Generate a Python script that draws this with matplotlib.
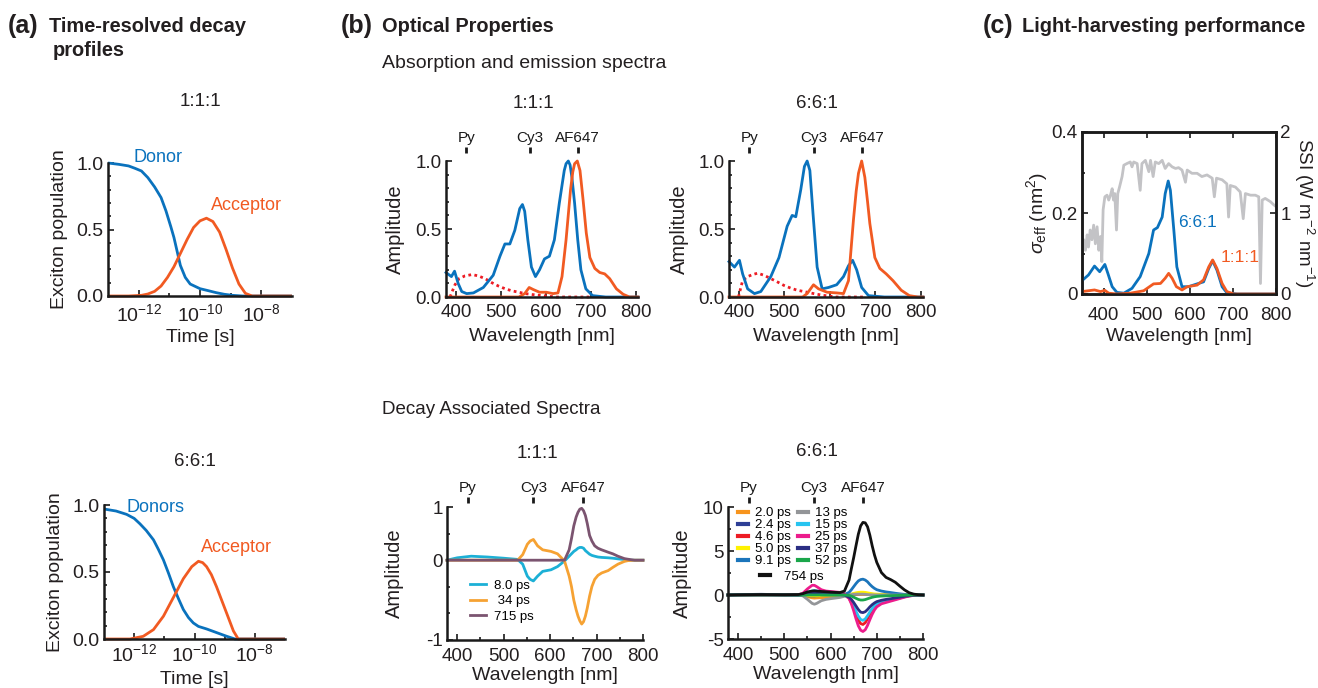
import numpy as np
import matplotlib
matplotlib.use("Agg")
import matplotlib.pyplot as plt
from matplotlib.ticker import FixedLocator, NullFormatter

# ---------------------------------------------------------------- data
# (a) exciton populations, time as log10(t / s)
a_top_title = "1:1:1"
a_bot_title = "6:6:1"
t_donor_111 = [-13.0, -12.65, -12.33, -12.12, -11.91, -11.70, -11.48, -11.27, -11.11, -10.95, -10.85,
               -10.74, -10.64, -10.48, -10.32, -10.0, -9.73, -9.47, -9.21, -8.94, -8.62, -7.0]
donor_111 = [1.0, 0.99, 0.978, 0.96, 0.94, 0.89, 0.82, 0.74, 0.64, 0.52, 0.44,
             0.33, 0.23, 0.14, 0.09, 0.055, 0.04, 0.025, 0.013, 0.005, 0.0, 0.0]
t_acc_111 = [-13.0, -12.33, -11.91, -11.70, -11.48, -11.27, -11.06, -10.85, -10.64, -10.42, -10.21,
             -10.0, -9.79, -9.58, -9.36, -9.15, -8.94, -8.73, -8.52, -8.30, -7.0]
acc_111 = [0, 0, 0.005, 0.015, 0.035, 0.075, 0.14, 0.22, 0.32, 0.425, 0.515,
           0.565, 0.585, 0.56, 0.48, 0.35, 0.21, 0.09, 0.02, 0, 0]
t_donor_661 = [-13.0, -12.6, -12.25, -12.0, -11.81, -11.6, -11.36, -11.2, -11.03, -10.86, -10.70,
               -10.53, -10.37, -10.2, -10.04, -9.87, -9.6, -9.38, -9.15, -8.93, -8.66, -7.0]
donor_661 = [0.97, 0.955, 0.93, 0.9, 0.86, 0.81, 0.74, 0.67, 0.59, 0.49, 0.39,
             0.3, 0.22, 0.16, 0.12, 0.094, 0.075, 0.057, 0.038, 0.02, 0.0, 0.0]
t_acc_661 = [-13.0, -12.14, -11.70, -11.36, -11.03, -10.70, -10.37, -10.09, -9.87, -9.73,
             -9.60, -9.44, -9.27, -9.1, -8.93, -8.71, -8.55, -8.3, -7.0]
acc_661 = [0, 0, 0.02, 0.07, 0.17, 0.31, 0.45, 0.54, 0.58, 0.57,
           0.54, 0.48, 0.39, 0.29, 0.19, 0.06, 0.0, 0.0, 0.0]
a_xticks = [1e-12, 1e-10, 1e-8]
a_xticklabels = ["10$^{-12}$", "10$^{-10}$", "10$^{-8}$"]

# (b) dye marker positions (nm)
dye_names = ["Py", "Cy3", "AF647"]
dye_wl = [423, 564, 671]

# (b) absorption / emission, 1:1:1
wl_abs_111 = [378, 390, 397, 405, 413, 424, 439, 461, 483, 498, 509, 520, 531, 542, 548, 553, 560,
              568, 577, 586, 597, 608, 619, 630, 641, 645, 650, 654, 658, 664, 671, 678, 689, 704, 733, 805]
abs_111 = [0.18, 0.15, 0.19, 0.10, 0.04, 0.025, 0.03, 0.07, 0.16, 0.30, 0.39, 0.39, 0.49, 0.65, 0.68, 0.63, 0.42,
           0.22, 0.15, 0.20, 0.28, 0.30, 0.42, 0.69, 0.93, 0.98, 1.0, 0.97, 0.88, 0.69, 0.42, 0.20, 0.06, 0.01, 0.0, 0.0]
wl_em_111 = [378, 540, 553, 563, 572, 586, 601, 616, 627, 636, 645, 655, 660, 664, 670, 676, 683, 690,
             698, 709, 720, 731, 742, 757, 772, 786, 805]
em_111 = [0, 0, 0.025, 0.07, 0.055, 0.035, 0.035, 0.025, 0.03, 0.15, 0.42, 0.79, 0.92, 0.98, 1.0, 0.93, 0.71, 0.47,
          0.29, 0.21, 0.18, 0.17, 0.135, 0.06, 0.02, 0.0, 0.0]
wl_py_111 = [387, 393, 398, 407, 420, 436, 450, 465, 480, 495, 510, 525, 540, 554, 570, 586, 605, 623, 700]
py_111 = [0, 0.05, 0.09, 0.135, 0.155, 0.165, 0.155, 0.135, 0.105, 0.08, 0.06, 0.045, 0.035, 0.025,
          0.018, 0.012, 0.006, 0.0, 0.0]

# (b) absorption / emission, 6:6:1
wl_abs_661 = [378, 390, 401, 408, 419, 434, 448, 470, 488, 506, 517, 525, 536, 544, 550, 556, 563, 572,
              583, 597, 615, 630, 641, 650, 659, 670, 685, 720, 805]
abs_661 = [0.26, 0.22, 0.27, 0.17, 0.06, 0.025, 0.04, 0.15, 0.29, 0.52, 0.60, 0.59, 0.79, 0.96, 1.0, 0.93, 0.61, 0.22,
           0.06, 0.07, 0.09, 0.15, 0.23, 0.27, 0.20, 0.07, 0.01, 0.0, 0.0]
wl_em_661 = [378, 540, 550, 564, 575, 594, 615, 630, 641, 652, 658, 663, 670, 677, 683, 688, 699, 710,
             724, 739, 757, 775, 794, 805]
em_661 = [0.0, 0.0, 0.025, 0.09, 0.06, 0.035, 0.03, 0.025, 0.12, 0.57, 0.78, 0.91, 1.0, 0.88, 0.7, 0.54, 0.29, 0.21,
          0.17, 0.12, 0.05, 0.01, 0.0, 0.0]
wl_py_661 = [399, 404, 408, 419, 430, 441, 455, 470, 485, 499, 514, 528, 543, 557, 572, 586, 615, 680]
py_661 = [0, 0.07, 0.12, 0.15, 0.165, 0.175, 0.16, 0.135, 0.11, 0.085, 0.065, 0.05, 0.04, 0.03, 0.02, 0.012, 0.0, 0.0]

# (b) decay associated spectra, 1:1:1
wl_das_111 = [378, 400, 430, 465, 500, 530, 541, 551, 557, 564, 573, 584, 602, 616, 631, 641, 646, 651,
              656, 660, 664, 668, 672, 676, 680, 685, 690, 696, 703, 711, 725, 735, 746, 760, 768, 782, 800]
das111_labels = ["8.0 ps", " 34 ps", "715 ps"]
das111_8p0 = [0, 0.03, 0.05, 0.04, 0.025, 0.01, -0.05, -0.2, -0.24, -0.26, -0.2, -0.14, -0.12, -0.08, -0.01,
              0.05, 0.08, 0.11, 0.13, 0.15, 0.16, 0.16, 0.15, 0.12, 0.1, 0.075, 0.06, 0.05, 0.04, 0.035,
              0.03, 0.025, 0.017, 0.008, 0, 0, 0]
das111_34 = [0, 0, 0, 0, 0, 0.0, 0.07, 0.2, 0.24, 0.26, 0.18, 0.13, 0.11, 0.08, -0.01, -0.2, -0.33, -0.5,
             -0.62, -0.7, -0.76, -0.8, -0.77, -0.7, -0.6, -0.45, -0.33, -0.24, -0.19, -0.16,
             -0.13, -0.09, -0.05, -0.015, -0.005, 0, 0]
das111_715 = [0, 0, 0, 0, 0, 0, 0, 0, 0, 0, 0, 0, 0, 0, 0.0, 0.13, 0.27, 0.43, 0.54, 0.6, 0.64, 0.65, 0.62,
              0.56, 0.46, 0.31, 0.24, 0.18, 0.15, 0.13, 0.1, 0.08, 0.05, 0.02, 0.012, 0.0, 0.0]

# (b) decay associated spectra, 6:6:1
wl_das_661 = [378, 400, 450, 500, 530, 540, 550, 560, 565, 570, 580, 590, 600, 610, 620, 630, 640, 645, 650,
              655, 660, 665, 670, 675, 680, 685, 690, 695, 700, 710, 720, 730, 740, 750, 760, 770, 780, 790, 800]
das661_labels = ["2.0 ps", "2.4 ps", "4.6 ps", "5.0 ps", "9.1 ps", "13 ps", "15 ps", "25 ps", "37 ps", "52 ps",
                 "754 ps"]
das661_2p0 = [0, 0, 0, 0, 0, -0.05, -0.2, -0.32, -0.35, -0.33, -0.3, -0.28, -0.25, -0.2, -0.12, -0.05, 0, 0.02,
              0.03, 0.04, 0.05, 0.05, 0.05, 0.05, 0.04, 0.03, 0.02, 0.02, 0.01, 0.01, 0, 0, 0, 0, 0, 0, 0, 0, 0]
das661_2p4 = [0, 0.05, 0.08, 0.03, 0, -0.02, -0.08, -0.12, -0.12, -0.1, -0.06, -0.04, -0.03, -0.02, -0.01, 0,
              0.05, 0.08, 0.1, 0.12, 0.14, 0.15, 0.15, 0.14, 0.12, 0.1, 0.08, 0.06, 0.05, 0.04, 0.03, 0.02,
              0.02, 0.01, 0.01, 0, 0, 0, 0]
das661_4p6 = [0, 0, 0, 0, 0, 0.05, 0.15, 0.25, 0.25, 0.2, 0.15, 0.12, 0.1, 0.08, 0.05, 0, -0.37, -0.85, -1.5,
              -2.2, -2.85, -3.25, -3.35, -3.15, -2.7, -2.2, -1.75, -1.4, -1.15, -0.88, -0.72, -0.6, -0.46,
              -0.34, -0.2, -0.1, -0.04, -0.01, 0]
das661_5p0 = [0, 0, 0, 0, 0, 0, -0.05, -0.1, -0.1, -0.1, -0.05, -0.03, -0.02, -0.01, 0, 0, 0.05, 0.1, 0.18,
              0.25, 0.3, 0.32, 0.32, 0.3, 0.25, 0.2, 0.15, 0.12, 0.1, 0.07, 0.05, 0.04, 0.03, 0.02, 0.01, 0, 0, 0, 0]
das661_9p1 = [0, 0, 0, 0, 0, 0.05, 0.2, 0.35, 0.4, 0.35, 0.2, 0.12, 0.08, 0.05, 0.03, 0.05, 0.3, 0.6, 0.95,
              1.3, 1.6, 1.75, 1.8, 1.7, 1.5, 1.2, 0.95, 0.75, 0.6, 0.45, 0.35, 0.28, 0.2, 0.13, 0.07, 0.03,
              0.01, 0, 0]
das661_13 = [0, 0, 0, 0, 0, -0.1, -0.5, -0.95, -1.05, -0.95, -0.65, -0.5, -0.42, -0.35, -0.28, -0.15, 0, 0.05,
             0.08, 0.1, 0.1, 0.1, 0.1, 0.08, 0.05, 0.03, 0.02, 0.01, 0.01, 0, 0, 0, 0, 0, 0, 0, 0, 0, 0]
das661_15 = [0, 0, 0, 0, 0, 0.05, 0.25, 0.45, 0.5, 0.45, 0.3, 0.2, 0.15, 0.12, 0.08, 0.02, -0.32, -0.7, -1.25,
             -1.85, -2.4, -2.78, -2.88, -2.72, -2.35, -1.92, -1.55, -1.22, -1.0, -0.78, -0.64, -0.52, -0.41,
             -0.3, -0.18, -0.09, -0.04, -0.01, 0]
das661_25 = [0, 0, 0, 0, 0.02, 0.2, 0.7, 1.1, 1.1, 0.95, 0.6, 0.45, 0.4, 0.35, 0.3, 0.15, -0.4, -1.0, -1.8,
             -2.7, -3.5, -4.0, -4.15, -3.95, -3.45, -2.8, -2.2, -1.7, -1.35, -1.0, -0.85, -0.7, -0.55, -0.4,
             -0.25, -0.12, -0.05, -0.01, 0]
das661_37 = [0, 0.03, 0.05, 0.02, 0, 0.02, 0.1, 0.2, 0.22, 0.2, 0.15, 0.12, 0.1, 0.08, 0.05, 0, -0.25, -0.5,
             -0.85, -1.25, -1.65, -1.95, -2.0, -1.9, -1.65, -1.35, -1.1, -0.9, -0.75, -0.6, -0.5, -0.42, -0.33,
             -0.25, -0.15, -0.08, -0.03, -0.01, 0]
das661_52 = [0, 0, 0, 0, 0, 0, 0, 0, 0, 0, 0, 0, 0, 0, 0, 0, -0.05, -0.12, -0.25, -0.38, -0.5, -0.57, -0.57,
             -0.52, -0.43, -0.34, -0.26, -0.2, -0.16, -0.12, -0.1, -0.08, -0.06, -0.04, -0.02, -0.01, 0, 0, 0]
das661_754 = [0, 0.02, 0.05, 0.03, 0.05, 0.15, 0.35, 0.45, 0.47, 0.45, 0.4, 0.37, 0.33, 0.3, 0.28, 0.45, 1.7,
              3.0, 4.25, 5.6, 6.9, 7.85, 8.25, 8.2, 7.75, 6.8, 5.6, 4.55, 3.7, 2.55, 2.0, 1.75, 1.45, 1.0,
              0.58, 0.26, 0.1, 0.03, 0]

# (c) effective cross-section and solar spectral irradiance
wl_sig_661 = [350, 365, 379, 391, 403, 410, 420, 431, 447, 466, 485, 505, 516, 525, 536, 543, 550, 555, 563,
              570, 582, 597, 617, 632, 644, 653, 663, 675, 686, 710, 800]
sig_661 = [0.033, 0.047, 0.069, 0.055, 0.073, 0.051, 0.018, 0.004, 0.002, 0.014, 0.043, 0.10, 0.158, 0.164,
           0.19, 0.248, 0.279, 0.256, 0.158, 0.067, 0.018, 0.018, 0.025, 0.03, 0.063, 0.082, 0.059, 0.018,
           0.003, 0.0, 0.0]
wl_sig_111 = [350, 379, 393, 403, 412, 431, 462, 493, 516, 532, 543, 551, 559, 569, 582, 594, 617, 632, 644,
              653, 663, 675, 686, 702, 800]
sig_111 = [0.006, 0.01, 0.006, 0.009, 0.002, 0.0, 0.002, 0.008, 0.025, 0.026, 0.039, 0.051, 0.039, 0.018,
           0.01, 0.018, 0.022, 0.035, 0.067, 0.084, 0.063, 0.026, 0.006, 0.0, 0.0]
wl_ssi = [350, 354, 358, 362, 365, 369, 373, 377, 381, 385, 389, 393, 396, 399, 403, 408, 412, 416, 420, 423,
          426, 430, 433, 437, 443, 447, 454, 462, 466, 470, 478, 485, 489, 497, 505, 509, 515, 520, 528, 536,
          543, 551, 559, 567, 574, 582, 590, 594, 605, 617, 628, 640, 652, 657, 662, 675, 686, 690, 694, 706,
          717, 724, 729, 741, 752, 760, 764, 768, 775, 787, 795, 800]
ssi = [0.50, 0.67, 0.54, 0.73, 0.58, 0.79, 0.67, 0.85, 0.62, 0.83, 0.54, 0.71, 0.40, 1.04, 1.20, 1.22, 1.16,
       1.22, 1.30, 1.16, 1.24, 0.79, 1.24, 1.32, 1.45, 1.59, 1.61, 1.63, 1.57, 1.63, 1.61, 1.28, 1.61, 1.65,
       1.51, 1.65, 1.45, 1.63, 1.61, 1.65, 1.55, 1.61, 1.57, 1.55, 1.56, 1.53, 1.38, 1.53, 1.49, 1.49, 1.45,
       1.47, 1.43, 1.20, 1.43, 1.41, 1.36, 0.95, 1.34, 1.32, 1.26, 0.93, 1.24, 1.22, 1.22, 1.20, 0.13, 1.16,
       1.18, 1.14, 1.10, 1.08]

# ---------------------------------------------------------------- style
plt.rcParams['font.family'] = ['Liberation Sans', 'DejaVu Sans']
plt.rcParams['mathtext.fontset'] = 'custom'
plt.rcParams['mathtext.rm'] = 'Liberation Sans'
plt.rcParams['mathtext.it'] = 'Liberation Sans:italic'
plt.rcParams['mathtext.bf'] = 'Liberation Sans:bold'

TXT = '#231f20'
BLUE = '#0a72bd'
ORANGE = '#f15a22'
DOTRED = '#ed1c24'
GRAY = '#c3c3c6'
DAS111_COLORS = ['#1cb0d6', '#f6a233', '#7b5470']
DAS661_COLORS = ['#f7941d', '#2e3f96', '#ed1c24', '#fff200', '#1b75bb', '#939598', '#27c4f0', '#ec1c8c',
                 '#2b2e83', '#1aa64a', '#111111']

W, H = 1318, 688
fig = plt.figure(figsize=(W / 100, H / 100), dpi=100)


def axes_px(l, t, r, b):
    return fig.add_axes([l / W, 1 - b / H, (r - l) / W, (b - t) / H])


def ftext(x, y, s, **kw):
    kw.setdefault('color', TXT)
    fig.text(x / W, 1 - y / H, s, **kw)


def open_axes(ax, lsize=13.5, xpad=5):
    ax.spines[['top', 'right']].set_visible(False)
    ax.spines[['left', 'bottom']].set_linewidth(1.8)
    ax.spines[['left', 'bottom']].set_color('#1a1a1a')
    ax.tick_params(which='both', direction='in', color='#1a1a1a', labelcolor=TXT, labelsize=lsize, width=1.2)
    ax.tick_params(which='major', length=4)
    ax.tick_params(which='minor', length=2.5)
    ax.tick_params(axis='y', pad=3)
    ax.tick_params(axis='x', pad=xpad)
    ax.patch.set_alpha(0)


def dye_axis(ax, loc):
    sec = ax.secondary_xaxis(loc)
    sec.set_xticks(dye_wl, labels=dye_names)
    sec.spines['top'].set_visible(False)
    sec.tick_params(direction='out', length=4.5, width=2, labelsize=11, pad=1.5, colors='#1a1a1a')


# ---------------------------------------------------------------- headings
ftext(8, 26, "(a)", fontsize=18, fontweight='bold', va='center')
ftext(49, 26, "Time-resolved decay", fontsize=14.4, fontweight='bold', va='center')
ftext(53, 50, "profiles", fontsize=14.4, fontweight='bold', va='center')
ftext(341, 26, "(b)", fontsize=18, fontweight='bold', va='center')
ftext(382, 26, "Optical Properties", fontsize=14.4, fontweight='bold', va='center')
ftext(382, 63, "Absorption and emission spectra", fontsize=14, va='center')
ftext(382, 410, "Decay Associated Spectra", fontsize=13.5, va='center')
ftext(983, 26, "(c)", fontsize=18, fontweight='bold', va='center')
ftext(1022, 26, "Light-harvesting performance", fontsize=14.4, fontweight='bold', va='center')

# ---------------------------------------------------------------- (a)
a_panels = [
    ((108, 163, 292, 296), a_top_title, (200, 102), t_donor_111, donor_111, t_acc_111, acc_111,
     "Donor", (-12.18, 1.04), (-9.64, 0.68), 5, 3),
    ((104, 505, 285, 639), a_bot_title, (195, 462), t_donor_661, donor_661, t_acc_661, acc_661,
     "Donors", (-12.27, 0.985), (-9.78, 0.68), 3, 4),
]
for box, title, tpos, tD, D, tA, A, dlab, dpos, apos, xpad, xlp in a_panels:
    ax = axes_px(*box)
    open_axes(ax, lsize=14, xpad=xpad)
    ax.set_xscale('log')
    ax.plot(10 ** np.array(tD), D, color=BLUE, lw=2.0, clip_on=False, solid_capstyle='butt')
    ax.plot(10 ** np.array(tA), A, color=ORANGE, lw=2.0, clip_on=False, solid_capstyle='butt')
    ax.set_xlim(1e-13, 1e-7)
    ax.set_ylim(0, 1.0)
    ax.set_xticks(a_xticks, labels=a_xticklabels)
    ax.xaxis.set_minor_locator(FixedLocator([1e-11, 1e-9]))
    ax.xaxis.set_minor_formatter(NullFormatter())
    ax.set_yticks([0, 0.5, 1.0], labels=["0.0", "0.5", "1.0"])
    ax.yaxis.set_minor_locator(FixedLocator([0.1, 0.2, 0.3, 0.4, 0.6, 0.7, 0.8, 0.9]))
    ax.set_xlabel("Time [s]", fontsize=14, color=TXT, labelpad=xlp)
    ax.set_ylabel("Exciton population", fontsize=14, color=TXT, labelpad=6)
    ax.text(10 ** dpos[0], dpos[1], dlab, color=BLUE, fontsize=13, va='center', ha='left')
    ax.text(10 ** apos[0], apos[1], "Acceptor", color=ORANGE, fontsize=13, va='center', ha='left')
    ftext(tpos[0], tpos[1], title, fontsize=13.5, ha='center', va='center')

# ---------------------------------------------------------------- (b) top
b_top = [
    ((446, 161, 638, 297), "1:1:1", (533, 104), wl_abs_111, abs_111, wl_em_111, em_111, wl_py_111, py_111, 8),
    ((729, 161, 923, 297), "6:6:1", (817, 104), wl_abs_661, abs_661, wl_em_661, em_661, wl_py_661, py_661, 7),
]
for box, title, tpos, wa, a, we, e, wp, p, ylp in b_top:
    ax = axes_px(*box)
    open_axes(ax, xpad=5)
    ax.plot(wp, p, color=DOTRED, lw=2.0, ls=(0, (1, 1.2)), clip_on=False)
    ax.plot(wa, a, color=BLUE, lw=2.0, clip_on=False)
    ax.plot(we, e, color=ORANGE, lw=2.0, clip_on=False)
    ax.set_xlim(378, 805)
    ax.set_ylim(0, 1.0)
    ax.set_xticks([400, 500, 600, 700, 800])
    ax.set_yticks([0, 0.5, 1.0], labels=["0.0", "0.5", "1.0"])
    ax.yaxis.set_minor_locator(FixedLocator([0.1, 0.2, 0.3, 0.4, 0.6, 0.7, 0.8, 0.9]))
    ax.set_xlabel("Wavelength [nm]", fontsize=14, color=TXT, labelpad=5)
    ax.set_ylabel("Amplitude", fontsize=14.5, color=TXT, labelpad=ylp)
    dye_axis(ax, 1.06)
    ftext(tpos[0], tpos[1], title, fontsize=13.5, ha='center', va='center')

# ---------------------------------------------------------------- (b) bottom left
ax = axes_px(447, 507, 643, 640)
open_axes(ax, xpad=6)
das111 = [das111_8p0, das111_34, das111_715]
handles = []
for vals, col, lab in zip(das111, DAS111_COLORS, das111_labels):
    ln, = ax.plot(wl_das_111, vals, color=col, lw=2.0, clip_on=False, label=lab)
    handles.append(ln)
ax.set_xlim(378, 800)
ax.set_ylim(-1, 2 / 3)
ax.set_xticks([400, 500, 600, 700, 800])
ax.xaxis.set_minor_locator(FixedLocator([450, 550, 650, 750]))
ax.set_yticks([-1, 0, 2 / 3], labels=["-1", "0", "1"])
ax.yaxis.set_minor_locator(FixedLocator([-2 / 3, -1 / 3, 1 / 3]))
ax.set_xlabel("Wavelength [nm]", fontsize=14, color=TXT, labelpad=1)
ax.set_ylabel("Amplitude", fontsize=14.5, color=TXT, labelpad=16)
dye_axis(ax, 1.03)
ax.legend(handles=handles, loc='upper left', bbox_to_anchor=(0.117, 0.455), frameon=False, fontsize=9.5,
          handlelength=1.25, handletextpad=0.6, labelspacing=0.24, borderpad=0, borderaxespad=0)
ftext(537, 453, "1:1:1", fontsize=13.5, ha='center', va='center')

# ---------------------------------------------------------------- (b) bottom right
ax = axes_px(728, 507, 923, 639)
open_axes(ax, xpad=6)
das661 = [das661_2p0, das661_2p4, das661_4p6, das661_5p0, das661_9p1, das661_13, das661_15, das661_25,
          das661_37, das661_52, das661_754]
handles = []
for vals, col, lab in zip(das661, DAS661_COLORS, das661_labels):
    ln, = ax.plot(wl_das_661, vals, color=col, lw=2.0, clip_on=False, label=lab)
    handles.append(ln)
ax.set_xlim(378, 800)
ax.set_ylim(-5, 10)
ax.set_xticks([400, 500, 600, 700, 800])
ax.xaxis.set_minor_locator(FixedLocator([450, 550, 650, 750]))
ax.set_yticks([-5, 0, 5, 10], labels=["-5", "0", "5", "10"])
ax.yaxis.set_minor_locator(FixedLocator([-2.5, 2.5, 7.5]))
ax.set_xlabel("Wavelength [nm]", fontsize=14, color=TXT, labelpad=1)
ax.set_ylabel("Amplitude", fontsize=14.5, color=TXT, labelpad=8)
dye_axis(ax, 1.03)
leg1 = ax.legend(handles=handles[:10], loc='upper left', bbox_to_anchor=(0.051, 1.0), ncol=2,
                 frameon=False, fontsize=9.5, handlelength=0.75, handletextpad=0.55, labelspacing=-0.02,
                 columnspacing=0.5, borderpad=0, borderaxespad=0)
for h in leg1.legend_handles:
    h.set_linewidth(3)
ax.add_artist(leg1)
leg2 = ax.legend(handles=handles[10:], loc='upper left', bbox_to_anchor=(0.164, 0.52), frameon=False,
                 fontsize=9.5, handlelength=0.75, handletextpad=1.1, borderpad=0, borderaxespad=0)
for h in leg2.legend_handles:
    h.set_linewidth(3)
ftext(817, 452, "6:6:1", fontsize=13.5, ha='center', va='center')

# ---------------------------------------------------------------- (c)
ax = axes_px(1082, 132, 1276, 294)
ax2 = ax.twinx()
ax2.plot(wl_ssi, ssi, color=GRAY, lw=2.0)
ax2.set_ylim(0, 2)
ax2.set_yticks([0, 1, 2])
ax.set_zorder(ax2.get_zorder() + 1)
ax.patch.set_visible(False)
ax.plot(wl_sig_661, sig_661, color=BLUE, lw=2.0)
ax.plot(wl_sig_111, sig_111, color=ORANGE, lw=2.0)
ax.set_xlim(350, 800)
ax.set_ylim(0, 0.4)
ax.set_xticks([400, 500, 600, 700, 800])
ax.set_yticks([0, 0.2, 0.4], labels=["0", "0.2", "0.4"])
ax.yaxis.set_minor_locator(FixedLocator([0.1, 0.3]))
for a_ in (ax, ax2):
    for s in a_.spines.values():
        s.set_linewidth(1.8)
        s.set_color('#1a1a1a')
    a_.tick_params(which='both', direction='in', color='#1a1a1a', labelcolor=TXT, labelsize=13.5, width=1.2)
    a_.tick_params(which='major', length=4, pad=3)
    a_.tick_params(which='minor', length=2.5)
ax.tick_params(axis='x', pad=9)
ax.tick_params(which='both', top=True)
ax.set_xlabel("Wavelength [nm]", fontsize=14, color=TXT, labelpad=3)
ax.set_ylabel(r"$\sigma_{\rm eff}$ (nm$^2$)", fontsize=14, color=TXT, labelpad=1)
ax2.set_ylabel(r"SSI (W m$^{-2}$ nm$^{-1}$)", fontsize=13.5, color=TXT, rotation=270, va='center', ha='center')
ax2.yaxis.set_label_coords(1.145, 0.5)
ax.text(618, 0.177, "6:6:1", color=BLUE, fontsize=12.5, ha='center', va='center')
ax.text(717, 0.091, "1:1:1", color=ORANGE, fontsize=12.5, ha='center', va='center')

fig.savefig("out.png", dpi=100)
